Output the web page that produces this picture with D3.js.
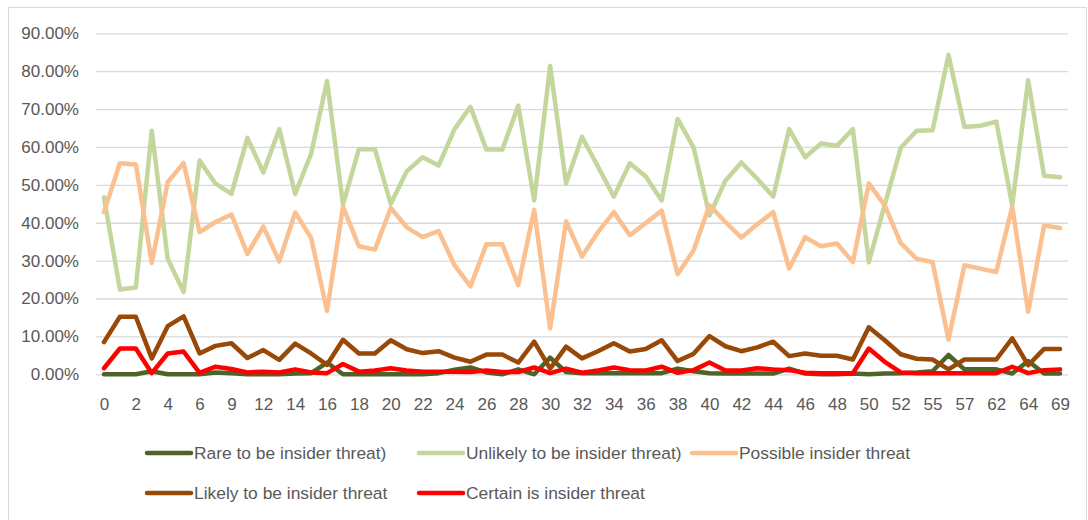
<!DOCTYPE html>
<html>
<head>
<meta charset="utf-8">
<script src="https://cdn.jsdelivr.net/npm/d3@7"></script>
<style>
  html, body { margin: 0; padding: 0; background: #ffffff; }
  svg { display: block; }
  text { font-family: "Liberation Sans", Arial, sans-serif; fill: #595959; }
</style>
</head>
<body>
<svg id="chart" width="1088" height="520"></svg>
<script>
// Category labels (respondent index); only every other one is printed on the axis
const categories = [0,1,2,3,4,5,6,8,9,10,12,13,14,15,16,17,18,19,20,21,22,23,24,25,26,27,28,29,30,31,
  32,33,34,35,36,37,38,39,40,41,42,43,44,45,46,47,48,49,50,51,52,53,55,56,57,59,62,63,64,67,69].map(String);

// Share of each rating, in percent
const rare = [0,0,0,0.8,0,0,0,0.5,0.3,0,0,0,0.2,0.3,3.1,0,0,0,0,0,0,0.3,1.2,1.8,0.5,0,1.3,0,4.4,0.6,
  0.3,0.3,0.3,0.3,0.3,0.3,1.5,0.8,0.3,0.2,0.2,0.2,0.2,1.5,0.2,0,0,0.2,0,0.2,0.3,0.5,0.8,5.1,1.3,1.3,1.3,0.2,3.5,0.2,0.2];
const unlikely = [46.7,22.4,22.9,64.3,30.5,21.7,56.4,50.3,47.6,62.4,53.3,64.7,47.6,58.2,77.4,44.8,59.4,59.4,45.0,53.6,
  57.3,55.1,64.7,70.6,59.3,59.3,70.9,45.9,81.4,50.4,62.7,54.8,46.9,55.7,52.2,45.9,67.4,59.9,41.9,51.1,
  55.9,51.6,46.9,64.7,57.3,60.9,60.3,64.7,29.6,44.8,59.7,64.3,64.4,84.3,65.3,65.6,66.7,44.6,77.6,52.4,52.0];
const possible = [42.8,55.7,55.4,29.4,50.7,55.8,37.5,40.2,42.2,31.8,39.0,29.8,42.7,36.0,16.7,44.2,33.8,32.9,43.9,38.8,
  36.2,37.8,28.8,23.2,34.3,34.3,23.5,43.4,12.1,40.4,31.1,37.5,42.8,36.7,39.9,43.2,26.4,32.7,44.6,40.2,
  36.1,39.6,42.8,27.9,36.2,33.8,34.5,29.6,50.4,44.6,34.6,30.5,29.6,9.2,28.8,27.9,27.0,44.3,16.5,39.3,38.6];
const likely = [8.5,15.2,15.2,4.2,12.7,15.3,5.5,7.5,8.2,4.3,6.4,3.8,8.1,5.5,2.5,9.1,5.5,5.5,9.0,6.6,
  5.6,6.1,4.4,3.3,5.2,5.2,3.1,8.6,1.5,7.3,4.2,6.1,8.2,6.0,6.7,9.0,3.5,5.4,10.1,7.4,
  6.1,7.1,8.6,4.8,5.5,4.9,4.9,3.9,12.4,9.0,5.3,4.1,3.9,1.3,3.9,3.9,3.9,9.5,2.4,6.7,6.7];
const certain = [1.6,6.8,6.8,0.3,5.5,6.0,0.4,2.0,1.4,0.5,0.7,0.5,1.3,0.5,0.3,2.7,0.7,1.0,1.6,1.0,
  0.7,0.7,0.7,0.6,1.0,0.6,0.6,1.8,0.3,1.5,0.4,1.0,1.8,1.1,1.0,2.0,0.4,1.1,3.1,1.0,
  1.0,1.6,1.3,1.1,0.4,0.3,0.3,0.3,6.8,3.3,0.5,0.3,0.3,0.3,0.3,0.3,0.3,2.0,0.3,1.1,1.3];

const seriesNames = ["Rare to be insider threat)", "Unlikely to be insider threat)", "Possible insider threat",
  "Likely to be insider threat", "Certain is insider threat"];
const yTicks = [0,10,20,30,40,50,60,70,80,90];

const series = [
  { name: seriesNames[0], values: rare,     color: "#4f6228" },
  { name: seriesNames[1], values: unlikely, color: "#c3d69b" },
  { name: seriesNames[2], values: possible, color: "#fac090" },
  { name: seriesNames[3], values: likely,   color: "#984807" },
  { name: seriesNames[4], values: certain,  color: "#ff0000" }
];

const svg = d3.select("#chart");
const plot = { left: 96, right: 1068, top: 33.3, bottom: 374.3 };

// Outer chart frame
svg.append("rect")
  .attr("x", 8.5).attr("y", 7.5)
  .attr("width", 1078).attr("height", 530)
  .attr("fill", "#ffffff").attr("stroke", "#d9d9d9").attr("stroke-width", 1);

const x = d3.scalePoint().domain(categories).range([plot.left, plot.right]).padding(0.5);
const y = d3.scaleLinear().domain([0, 90]).range([plot.bottom, plot.top]);

// Value axis with horizontal gridlines
const yAxis = svg.append("g")
  .attr("transform", `translate(${plot.left},0)`)
  .call(d3.axisLeft(y).tickValues(yTicks)
    .tickSize(-(plot.right - plot.left))
    .tickPadding(17)
    .tickFormat(d => d.toFixed(2) + "%"));
yAxis.select(".domain").remove();
yAxis.selectAll(".tick line").attr("stroke", "#d9d9d9").attr("stroke-width", 1.3);
yAxis.selectAll(".tick text").style("font-size", "17px").attr("fill", "#595959");

// Category axis: labels on every other category
const xAxis = svg.append("g")
  .attr("transform", `translate(0,${plot.bottom})`)
  .call(d3.axisBottom(x)
    .tickValues(categories.filter((d, i) => i % 2 === 0))
    .tickSize(0)
    .tickPadding(23.5));
xAxis.select(".domain").remove();
xAxis.selectAll(".tick text").style("font-size", "17px").attr("fill", "#595959");

// Lines
const line = d3.line()
  .x((d, i) => x(categories[i]))
  .y(d => y(d));

svg.append("g").selectAll("path")
  .data(series)
  .join("path")
  .attr("d", s => line(s.values))
  .attr("fill", "none")
  .attr("stroke", s => s.color)
  .attr("stroke-width", 4.5)
  .attr("stroke-linejoin", "round")
  .attr("stroke-linecap", "round");

// Legend: three columns, two rows
const legendCols = [147, 419, 692];
const legendRows = [453, 493];
const legend = svg.append("g").selectAll("g")
  .data(series)
  .join("g")
  .attr("transform", (s, i) => `translate(${legendCols[i % 3]},${legendRows[Math.floor(i / 3)]})`);
legend.append("line")
  .attr("x1", 0).attr("x2", 44)
  .attr("stroke", s => s.color)
  .attr("stroke-width", 4.5)
  .attr("stroke-linecap", "round");
legend.append("text")
  .attr("x", 47)
  .attr("dy", "0.35em")
  .style("font-size", "17.4px")
  .text(s => s.name);
</script>
</body>
</html>
